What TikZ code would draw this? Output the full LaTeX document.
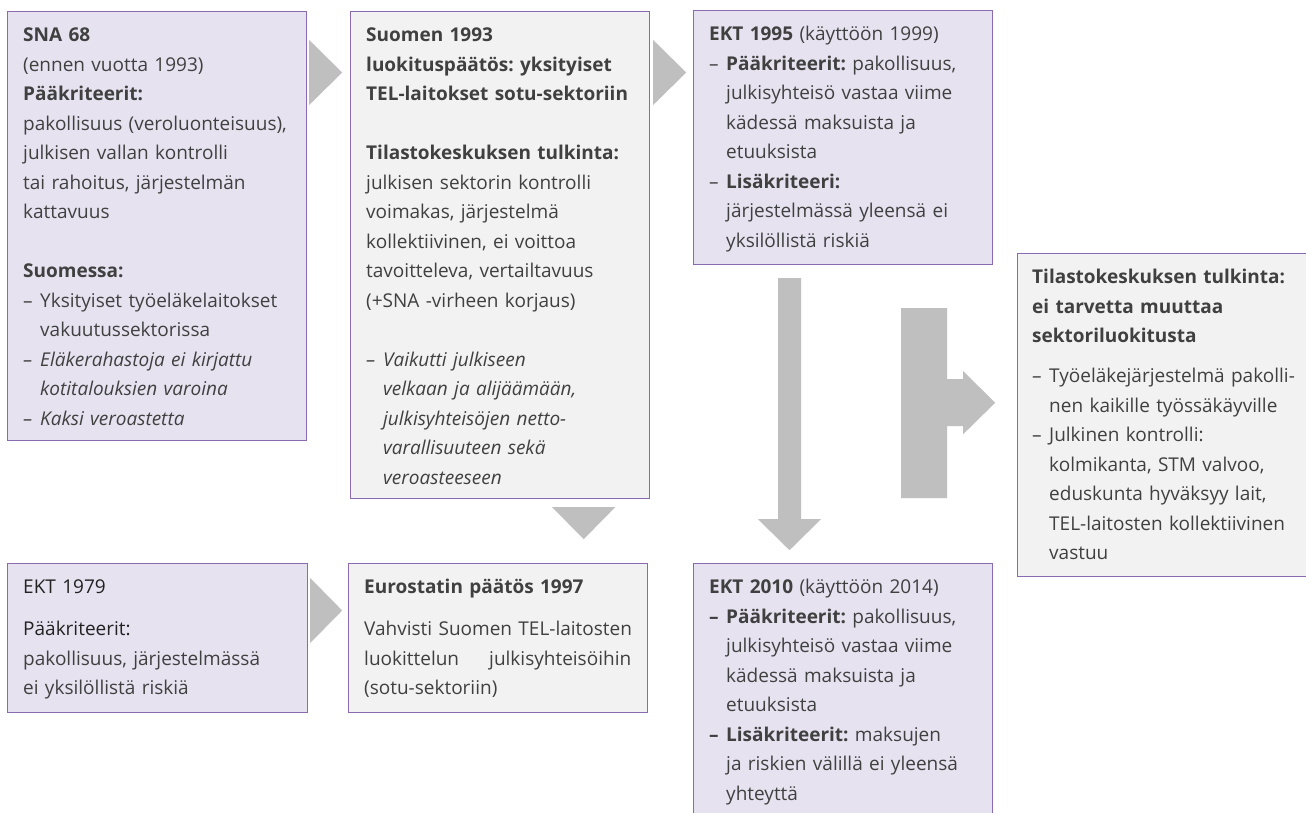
\documentclass[tikz,border=0pt]{standalone}
\usepackage{fontspec}
\setmainfont{Open Sans}
\usetikzlibrary{calc}
\definecolor{framepurple}{HTML}{8A6BB0}
\definecolor{lilac}{HTML}{E7E2F0}
\definecolor{panelgrey}{HTML}{F2F2F2}
\definecolor{arrowgrey}{HTML}{BFBFBF}
\definecolor{inkgrey}{HTML}{404040}
\definecolor{inkdark}{HTML}{222222}
\newcommand\dashitem{\makebox[17pt][l]{–}}
\newcommand\contitem{\hspace*{17pt}}

\begin{document}
\begin{tikzpicture}[
      x=1pt, y=-1pt,
      box/.style={draw=framepurple, line width=1.2pt, anchor=north west, inner sep=0pt},
      lilacbox/.style={box, fill=lilac},
      greybox/.style={box, fill=panelgrey},
      boxtext/.style={anchor=north west, inner sep=0pt, text width=285pt, align=left,
        text=inkgrey, font=\fontsize{19}{29.5}\selectfont\frenchspacing},
      blockarrow/.style={fill=arrowgrey},
  ]
    \path[fill=white, use as bounding box] (0,0) rectangle (1306,812);

    \node[lilacbox, minimum width=299pt, minimum height=429pt] (sna) at (7,11) {};
    \node[greybox, minimum width=299pt, minimum height=487pt] (fin93) at (350,11) {};
    \node[lilacbox, minimum width=299pt, minimum height=254pt] (ekt95) at (693,10) {};
    \node[greybox, minimum width=295pt, minimum height=323pt] (tk) at (1017,253) {};
    \node[lilacbox, minimum width=300pt, minimum height=149pt] (ekt79) at (7,563) {};
    \node[greybox, minimum width=299pt, minimum height=149pt] (euro97) at (348,563) {};
    \node[lilacbox, minimum width=299pt, minimum height=260pt] (ekt10) at (693,563) {};

    \node[boxtext] (sna-text) at ($(sna.north west)+(16,10)$) {\strut\textbf{SNA 68}\\
      (ennen vuotta 1993)\\
      \textbf{Pääkriteerit:}\\
      pakollisuus (veroluonteisuus),\\
      julkisen vallan kontrolli\\
      tai rahoitus, järjestelmän\\
      kattavuus\\[29.5pt]
      \textbf{Suomessa:}\\
      \dashitem Yksityiset työeläkelaitokset\\
      \contitem vakuutussektorissa\\
      \textit{\dashitem Eläkerahastoja ei kirjattu}\\
      \textit{\contitem kotitalouksien varoina}\\
      \textit{\dashitem Kaksi veroastetta}};

    \node[boxtext] (fin93-text) at ($(fin93.north west)+(16,10)$) {\strut\textbf{Suomen 1993}\\
      \textbf{luokituspäätös: yksityiset}\\
      \textbf{TEL-laitokset sotu-sektoriin}\\[29.5pt]
      \textbf{Tilastokeskuksen tulkinta:}\\
      julkisen sektorin kontrolli\\
      voimakas, järjestelmä\\
      kollektiivinen, ei voittoa\\
      tavoitteleva, vertailtavuus\\
      (+SNA -virheen korjaus)\\[29.5pt]
      \textit{\dashitem Vaikutti julkiseen}\\
      \textit{\contitem velkaan ja alijäämään,}\\
      \textit{\contitem julkisyhteisöjen netto-}\\
      \textit{\contitem varallisuuteen sekä}\\
      \textit{\contitem veroasteeseen}};

    \node[boxtext] (ekt95-text) at ($(ekt95.north west)+(16,10)$) {\strut\textbf{EKT 1995} (käyttöön 1999)\\
      \dashitem\textbf{Pääkriteerit:} pakollisuus,\\
      \contitem julkisyhteisö vastaa viime\\
      \contitem kädessä maksuista ja\\
      \contitem etuuksista\\
      \dashitem\textbf{Lisäkriteeri:}\\
      \contitem järjestelmässä yleensä ei\\
      \contitem yksilöllistä riskiä};

    \node[boxtext] (tk-text) at ($(tk.north west)+(15,10)$) {\strut\textbf{Tilastokeskuksen tulkinta:}\\
      \textbf{ei tarvetta muuttaa}\\
      \textbf{sektoriluokitusta}\\[10.5pt]
      \dashitem Työeläkejärjestelmä pakolli-\\
      \contitem nen kaikille työssäkäyville\\
      \dashitem Julkinen kontrolli:\\
      \contitem kolmikanta, STM valvoo,\\
      \contitem eduskunta hyväksyy lait,\\
      \contitem TEL-laitosten kollektiivinen\\
      \contitem vastuu};

    \node[boxtext] (ekt79-text) at ($(ekt79.north west)+(16,10)$) {\strut\textcolor{inkdark}{EKT 1979}\\[12.5pt]
      \textcolor{inkdark}{Pääkriteerit:}\\
      pakollisuus, järjestelmässä\\
      ei yksilöllistä riskiä};

    \node[boxtext] (euro97-text) at ($(euro97.north west)+(16,10)$) {\strut\textbf{Eurostatin päätös 1997}\\[12.5pt]
      Vahvisti Suomen TEL-laitosten\\
      \leavevmode\hbox to 267pt{luokittelun\hfill julkisyhteisöihin}\\
      (sotu-sektoriin)};

    \node[boxtext] (ekt10-text) at ($(ekt10.north west)+(16,10)$) {\strut\textbf{EKT 2010} (käyttöön 2014)\\
      \textbf{\dashitem Pääkriteerit:} pakollisuus,\\
      \contitem julkisyhteisö vastaa viime\\
      \contitem kädessä maksuista ja\\
      \contitem etuuksista\\
      \textbf{\dashitem Lisäkriteerit:} maksujen\\
      \contitem ja riskien välillä ei yleensä\\
      \contitem yhteyttä};

    \fill[blockarrow] ($(sna.north east)+(2,29)$) -- ++(33,32.5) -- ++(-33,32.5) -- cycle;
    \fill[blockarrow] ($(fin93.north east)+(3,29)$) -- ++(33,32.5) -- ++(-33,32.5) -- cycle;
    \fill[blockarrow] ($(ekt79.north east)+(2,15)$) -- ++(32,32.5) -- ++(-32,32.5) -- cycle;
    \fill[blockarrow] ($(fin93.south east)+(-98,8)$) -- ++(63,0) -- ++(-31.5,32) -- cycle;
    \fill[blockarrow] ($(ekt95.south west)+(85,13)$) -- ++(23,0) -- ++(0,241) -- ++(20,0)
      -- ++(-31.5,31) -- ++(-31.5,-31) -- ++(20,0) -- cycle;
    \fill[blockarrow] ($(ekt95.south east)+(-92,43)$) -- ++(46,0) -- ++(0,71) -- ++(16,0)
      -- ++(0,-8) -- ++(32,31.5) -- ++(-32,31.5) -- ++(0,-8) -- ++(-16,0) -- ++(0,72)
      -- ++(-46,0) -- cycle;
  \end{tikzpicture}
\end{document}
